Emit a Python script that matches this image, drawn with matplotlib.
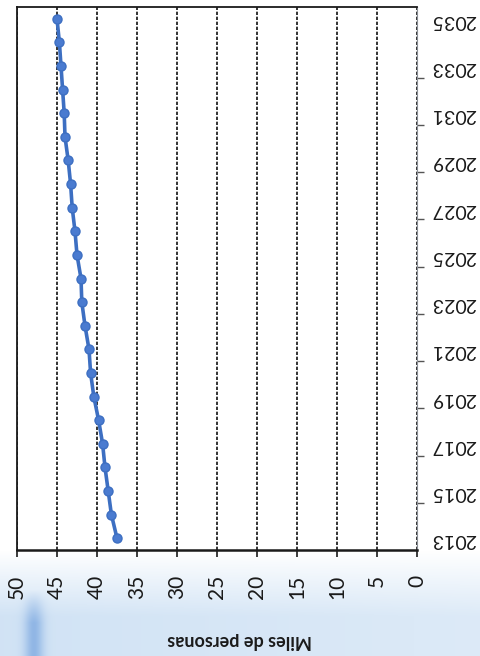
import matplotlib.pyplot as plt
import numpy as np
from matplotlib.ticker import FixedLocator

# data read from the (rotated) chart
years = list(range(2013, 2036))
miles = [37.5, 38.2, 38.6, 39.0, 39.3, 39.8, 40.4, 40.8, 41.0, 41.5, 41.9, 42.0,
         42.5, 42.75, 43.1, 43.3, 43.6, 44.0, 44.1, 44.3, 44.5, 44.7, 45.0]
year_labels = [str(y) for y in range(2013, 2036, 2)]
value_ticks = list(range(0, 55, 5))
ylabel = "Miles de personas"

plt.rcParams['font.family'] = ['Lato', 'DejaVu Sans']

fig = plt.figure(figsize=(4.8, 6.56), dpi=100)

# light blue washed background at the bottom of the picture
bg = fig.add_axes([0, 0, 1, 1], zorder=-10)
h, w = 656, 480
yy = np.linspace(0, 1, h)[:, None]
xx = np.linspace(0, 1, w)[None, :]
t = np.clip((yy - 0.84) / 0.10, 0, 1) * (1 - 0.25 * xx)
streak = np.exp(-((xx - 0.07) / 0.02) ** 2) * np.clip((yy - 0.90) / 0.05, 0, 1)
img = np.ones((h, w, 3))
blue = np.array([0.82, 0.89, 0.96])
img = img * (1 - t[..., None]) + blue * t[..., None]
img = img * (1 - 0.6 * streak[..., None]) + np.array([0.40, 0.60, 0.86]) * 0.6 * streak[..., None]
bg.imshow(img, aspect='auto', extent=[0, 1, 0, 1], origin='upper')
bg.axis('off')

ax = fig.add_axes([17 / 480, 106 / 656, 400 / 480, 543 / 656])
ax.set_facecolor('white')

ax.plot(miles, years, color='#3d6fc2', lw=2.6, marker='o', ms=6.5,
        markerfacecolor='#4a7bd0', markeredgecolor='#3d6fc2', zorder=3)

ax.set_xlim(50, 0)
ax.set_ylim(2012.5, 2035.5)

ax.xaxis.set_major_locator(FixedLocator(value_ticks))
ax.grid(axis='x', color='#111111', lw=1.2, linestyle=(0, (2, 1)))
ax.set_axisbelow(True)

ax.tick_params(axis='x', direction='out', length=5, width=1.2, pad=13,
               labelsize=15, labelrotation=90, colors='#1a1a1a')

ax.yaxis.tick_right()
ax.yaxis.set_major_locator(FixedLocator(range(2013, 2036, 2)))
ax.set_yticklabels(year_labels)
ax.yaxis.set_minor_locator(FixedLocator(np.arange(2014.5, 2033, 2)))
ax.tick_params(axis='y', which='major', length=0, pad=10, labelsize=14,
               labelrotation=180, colors='#1a1a1a')
ax.tick_params(axis='y', which='minor', length=5, width=1, color='#555555')

for s in ['left', 'top', 'bottom']:
    ax.spines[s].set_color('#1a1a1a')
ax.spines['bottom'].set_linewidth(1.8)
ax.spines['left'].set_linewidth(1.3)
ax.spines['top'].set_linewidth(1.3)
ax.spines['right'].set_color('#8a8f95')

ax.set_xlabel(ylabel, rotation=180, fontsize=13, fontweight='bold', color='#1a1a1a')
ax.xaxis.set_label_coords((240 - 17) / 400, (550 - 640) / 543)
ax.xaxis.label.set_va('center')

fig.savefig('out.png', dpi=100)
